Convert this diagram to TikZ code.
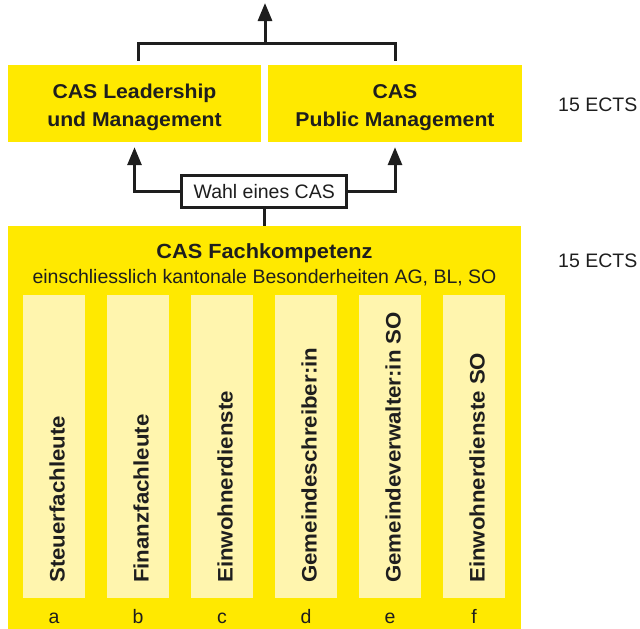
\documentclass[tikz,border=0pt]{standalone}
\usepackage{fontspec}
\setmainfont{Liberation Sans}[BoldFeatures={FakeStretch=1.06}]
\usetikzlibrary{arrows.meta}
\definecolor{cyel}{HTML}{FFE900}
\definecolor{clite}{HTML}{FFF5AE}
\definecolor{cink}{HTML}{1E1E1E}
\begin{document}
\begin{tikzpicture}[x=1pt,y=-1pt,
  every node/.style={text=cink},
  topbox/.style={fill=cyel, draw=none, inner sep=0pt, minimum height=77pt},
  colbox/.style={fill=clite, draw=none, inner sep=0pt, minimum width=62pt, minimum height=303pt},
  boldtxt/.style={font=\fontsize{20}{28}\selectfont\bfseries, inner sep=0pt, align=center},
  headtxt/.style={font=\fontsize{20.5}{28}\selectfont\bfseries, inner sep=0pt},
  regtxt/.style={font=\fontsize{19.5}{24}\selectfont, inner sep=0pt},
  coltxt/.style={font=\fontsize{21}{24}\selectfont\bfseries, inner sep=0pt, rotate=90, anchor=base west},
  conn/.style={draw=cink, line width=3pt},
  arr/.style={-{Triangle[length=18pt,width=14pt]}},
  wahlbox/.style={draw=cink, line width=2.5pt, fill=white, minimum width=165pt, minimum height=32pt, inner sep=0pt}
]
\useasboundingbox (0,0) rectangle (640,629);

% top boxes
\node[topbox, minimum width=253pt] (L) at (134.5,103.5) {};
\node[topbox, minimum width=254pt] (R) at (395,103.5) {};
\node[boldtxt, anchor=base] (Lt) at (134.5,126) {CAS Leadership\\und Management};
\node[boldtxt, anchor=base] (Rt) at (395,126) {CAS\\Public Management};

% big box
\node[fill=cyel, draw=none, inner sep=0pt, minimum width=513pt, minimum height=403pt] (big) at (264.5,427.5) {};
\node[headtxt, anchor=base] (head) at (264.5,258) {CAS Fachkompetenz};
\node[regtxt, anchor=base] (sub) at (264.5,283) {einschliesslich kantonale Besonderheiten AG, BL, SO};

% columns
\foreach \n/\cx/\lab/\lt in {a/54/Steuerfachleute/a, b/138/Finanzfachleute/b, c/222/Einwohnerdienste/c, d/306/Gemeindeschreiber:in/d, e/390/Gemeindeverwalter:in SO/e, f/474/Einwohnerdienste SO/f}{
  \node[colbox] (col\n) at (\cx,446.5) {};
  \node[coltxt] (lab\n) at (\cx+10.5,583) {\lab};
  \node[regtxt, anchor=base] (let\n) at (\cx,623) {\lt};
}

% ECTS
\node[regtxt, anchor=base west] (e1) at (558,111) {15 ECTS};
\node[regtxt, anchor=base west] (e2) at (558,267) {15 ECTS};

% Wahl box and connectors
\node[wahlbox] (wahl) at (264.2,191.5) {};
\draw[conn] (wahl.south) -- (wahl.south |- big.north);
\draw[conn, arr, shorten >=5pt] (wahl.west) -| (L.south);
\draw[conn, arr, shorten >=5pt] (wahl.east) -| (R.south);
\node[regtxt] (wahlt) at (wahl.center) {Wahl eines CAS};

% top connectors
\coordinate (join) at (265,43);
\coordinate (tip) at (265,3);
\draw[conn] ([xshift=3.5pt,yshift=4pt]L.north) |- (join) -| ([yshift=4pt]R.north);
\draw[conn, arr] (join) -- (tip);
\end{tikzpicture}
\end{document}
